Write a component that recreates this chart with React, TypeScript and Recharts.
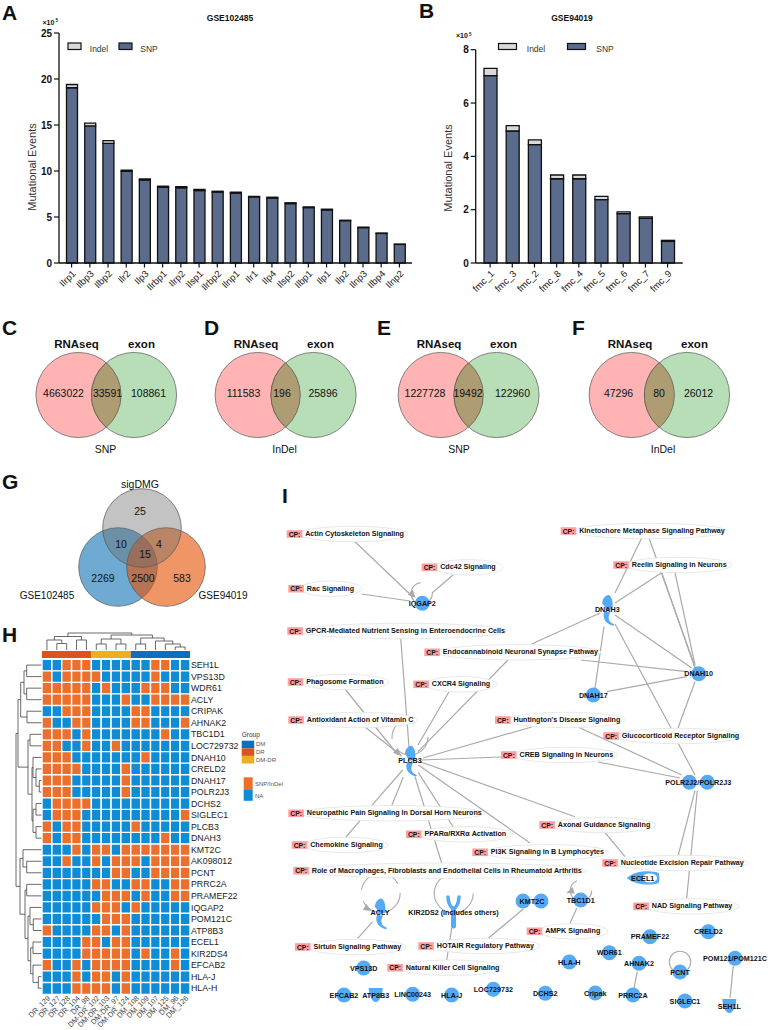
import React from 'react';
import {
  BarChart,
  Bar,
  Cell,
  XAxis,
  YAxis,
  ScatterChart,
  Scatter,
  ReferenceLine,
} from 'recharts';

const FONT = '"Liberation Sans", Arial, sans-serif';

// panels A / B
const A_CATS = ['Ilrp1', 'Ilbp3', 'Ilbp2', 'Ilr2', 'Ilp3', 'Ilrbp1', 'Ilrp2', 'Ilsp1', 'Ilrbp2', 'Ilnp1', 'Ilr1', 'Ilp4', 'Ilsp2', 'Ilbp1', 'Ilp1', 'Ilp2', 'Ilnp3', 'Ilbp4', 'Ilnp2'];
const A_SNP = [19.05, 14.9, 13.0, 9.95, 9.0, 8.23, 8.18, 7.88, 7.7, 7.6, 7.15, 7.05, 6.45, 6.02, 5.77, 4.6, 3.85, 3.21, 2.02];
const A_INDEL = [0.35, 0.3, 0.3, 0.15, 0.15, 0.12, 0.12, 0.12, 0.1, 0.1, 0.1, 0.1, 0.1, 0.08, 0.08, 0.05, 0.05, 0.04, 0.03];
const A_TICKS = [0, 5, 10, 15, 20, 25];

const B_CATS = ['fmc_1', 'fmc_3', 'fmc_2', 'fmc_8', 'fmc_4', 'fmc_5', 'fmc_6', 'fmc_7', 'fmc_9'];
const B_SNP = [7.03, 4.95, 4.44, 3.16, 3.16, 2.38, 1.85, 1.67, 0.81];
const B_INDEL = [0.27, 0.2, 0.18, 0.14, 0.14, 0.12, 0.07, 0.06, 0.04];
const B_TICKS = [0, 2, 4, 6, 8];

// panels C-F
const VENN_TITLES = ['SNP', 'InDel', 'SNP', 'InDel'];
const VENN_COUNTS = [
  [4663022, 33591, 108861],
  [111583, 196, 25896],
  [1227728, 19492, 122960],
  [47296, 80, 26012],
];

// panel G
const G_NAMES = ['sigDMG', 'GSE102485', 'GSE94019'];
const G_COUNTS = [25, 10, 4, 15, 2269, 2500, 583];
const G_X = [142, 118, 166];
const G_Y = [528, 567, 567];

// panel H
const HEAT_GENES = ['SEH1L', 'VPS13D', 'WDR61', 'ACLY', 'CRIPAK', 'AHNAK2', 'TBC1D1', 'LOC729732', 'DNAH10', 'CRELD2', 'DNAH17', 'POLR2J3', 'DCHS2', 'SIGLEC1', 'PLCB3', 'DNAH3', 'KMT2C', 'AK098012', 'PCNT', 'PRRC2A', 'PRAMEF22', 'IQGAP2', 'POM121C', 'ATP8B3', 'ECEL1', 'KIR2DS4', 'EFCAB2', 'HLA-J', 'HLA-H'];
const HEAT_SAMPLES = ['DR_129', 'DR_127', 'DR_128', 'DR_104', 'DR_98', 'DM-DR_102', 'DM-DR_103', 'DM-DR_97', 'DM-DR_124', 'DM_108', 'DM_109', 'DM_107', 'DM_125', 'DM_96', 'DM_126'];
const HEAT_ROWS = [
  '001110000001100',
  '101111000001000',
  '111110100011100',
  '111110001001111',
  '001110000110000',
  '100110000110001',
  '111010000000100',
  '110010010000000',
  '111000000010000',
  '111100001000000',
  '111000001000000',
  '111000001000000',
  '011110000000000',
  '011100000000001',
  '101100000100000',
  '101100000000100',
  '000101101111111',
  '001001011101111',
  '000000011001111',
  '000001100110011',
  '000000111010011',
  '000001110100000',
  '000000111000000',
  '100001101000000',
  '000011011000000',
  '000011111010010',
  '100101111000010',
  '000101101000000',
  '000111101000000',
];
const GROUP_SIZES = { DR: 5, 'DM-DR': 4, DM: 6 };

// dendrograms: [merge height, left child, right child], a number is a leaf index
type Tree = number | [number, Tree, Tree];
const TOP_TREE: Tree = [633,
  [636.5, [640, 0, [643.5, 1, 2]], [640, 3, 4]],
  [635, [639, [644, 5, 6], [644, 7, 8]], [638, [644, 9, 10], [641, 11, [644, 12, [647, 13, 14]]]]],
];
const LEFT_TREE: Tree = [16,
  [18,
    [20.7, [24, [26.7, 0, 1], [26.7, 2, 3]], [27, 4, 5]],
    [28, [30, 6, 7], [32, [33, 8, [36, 9, [39.3, 10, 11]]], [33, [36, 12, 13], [36, 14, 15]]]],
  ],
  [20,
    [23, 16, [26.7, 17, 18]],
    [25, [26.7, 19, 20], [28, [30, 21, [33.3, 22, 23]], [30.7, [33, 24, 25], [33, 26, [38.3, 27, 28]]]]],
  ],
];

// panel I: pathway label, x of the CP box, y, x of the ellipse end
const PATHWAYS: [string, number, number, number][] = [
  ['Actin Cytoskeleton Signaling', 286.7, 534, 408],
  ['Cdc42 Signaling', 421.7, 567.3, 503],
  ['Rac Signaling', 288.3, 588.7, 362],
  ['GPCR-Mediated Nutrient Sensing in Enteroendocrine Cells', 287.3, 631, 507],
  ['Endocannabinoid Neuronal Synapse Pathway', 424.3, 652.3, 601],
  ['Phagosome Formation', 287.7, 682, 389],
  ['CXCR4 Signaling', 413.3, 684.3, 497],
  ['Antioxidant Action of Vitamin C', 288.3, 720, 418],
  ["Huntington's Disease Signaling", 495, 720, 625],
  ['Glucocorticoid Receptor Signaling', 603.3, 736, 743],
  ['CREB Signaling in Neurons', 501, 755, 618],
  ['Kinetochore Metaphase Signaling Pathway', 560.7, 531, 727],
  ['Reelin Signaling in Neurons', 613.3, 565, 732],
  ['Neuropathic Pain Signaling In Dorsal Horn Neurons', 288.3, 813.3, 485],
  ['PPARα/RXRα Activation', 406, 834.3, 513],
  ['Chemokine Signaling', 291.7, 845, 388],
  ['PI3K Signaling in B Lymphocytes', 472.3, 852.3, 609],
  ['Axonal Guidance Signaling', 539.3, 825, 656],
  ['Nucleotide Excision Repair Pathway', 602.3, 863, 748],
  ['Role of Macrophages, Fibroblasts and Endothelial Cells in Rheumatoid Arthritis', 293.3, 870.7, 587],
  ['NAD Signaling Pathway', 633.3, 906.3, 739],
  ['AMPK Signaling', 526.7, 931.3, 608],
  ['Sirtuin Signaling Pathway', 295, 947, 406],
  ['HOTAIR Regulatory Pathway', 418.3, 946, 540],
  ['Natural Killer Cell Signaling', 387.3, 967.7, 503],
];

// node label, x, y, glyph
const NODES: [string, number, number, string][] = [
  ['IQGAP2', 422.3, 603.3, 'circle'],
  ['DNAH3', 607.3, 609.3, 'crescent'],
  ['DNAH10', 698.7, 673.7, 'circle'],
  ['DNAH17', 593.3, 695, 'circle'],
  ['PLCB3', 410, 760, 'crescent'],
  ['POLR2J2/POLR2J3', 698.3, 782.3, 'double'],
  ['ECEL1', 642.7, 878, 'leaf'],
  ['ACLY', 380, 912.7, 'crescent'],
  ['KIR2DS2 (includes others)', 453.5, 912, 'receptor'],
  ['KMT2C', 532, 901, 'double'],
  ['TBC1D1', 580.7, 900, 'circle'],
  ['VPS13D', 363.7, 968, 'circle'],
  ['EFCAB2', 344, 995, 'circle'],
  ['ATP8B3', 375.7, 995, 'cup'],
  ['LINC00243', 412.7, 994.3, 'circle'],
  ['HLA-J', 451.7, 995, 'circle'],
  ['LOC729732', 493.3, 989.3, 'circle'],
  ['DCHS2', 545.3, 993.3, 'circle'],
  ['Cripak', 595.3, 993, 'circle'],
  ['HLA-H', 569.3, 962, 'circle'],
  ['WDR61', 609.3, 952.7, 'circle'],
  ['PRAMEF22', 650, 936.7, 'circle'],
  ['AHNAK2', 639, 963.3, 'circle'],
  ['PRRC2A', 633, 995, 'circle'],
  ['PCNT', 680, 972, 'circle'],
  ['SIGLEC1', 685, 1001, 'circle'],
  ['CRELD2', 708.3, 931.7, 'circle'],
  ['POM121/POM121C', 735, 958.3, 'circle'],
  ['SEH1L', 729.3, 1006, 'cup'],
];

const EDGES: [number, number, number, number][] = [
  [355, 541.7, 413, 597], [453, 575, 432, 593], [361.7, 594, 410, 601],
  [400.7, 638, 409, 747], [345, 689, 398, 755], [365, 727, 401.7, 756],
  [449, 691.7, 418, 745], [508, 660, 418, 751.7], [531.7, 644, 600, 613],
  [581, 660, 686.7, 671.7], [531.7, 727, 423, 758], [578, 727, 681.7, 775],
  [501, 757, 421.7, 760], [598, 762, 680, 778], [678, 728, 695, 681.7],
  [678, 743, 695, 775], [615, 624, 671, 728], [615, 615, 691.7, 668],
  [604, 626.7, 595, 688], [606.7, 691.7, 686.7, 676.7], [641.7, 538, 615, 593],
  [649, 538, 695, 666.7], [661.7, 572.7, 615, 603], [661.7, 572.7, 695, 668],
  [675, 572.7, 695, 665], [402.7, 770, 371.7, 805.7], [403.3, 777, 391.7, 805.7],
  [360, 820.7, 346, 837], [415, 776.7, 441.7, 863], [418.3, 772.7, 453.3, 827],
  [418.3, 765, 530, 843], [420, 761.7, 575, 816.7], [604.3, 831.7, 625, 856.7],
  [695, 790.7, 678.3, 855], [697.3, 790.7, 686.7, 898], [576.7, 908.3, 570, 923.3],
  [523.3, 909, 488.3, 938.3], [372.7, 921.7, 357.7, 938.3], [451.7, 928, 446.7, 960],
  [637.3, 971.7, 634, 988], [733.3, 966, 730, 998],
];

// self loops: x, y, radius, dash pattern
const LOOPS: [number, number, number, string][] = [
  [421.7, 593.3, 10.7, '20 5 24 20'],
  [410, 737, 18, '40 14 36 30'],
  [380.7, 893, 19.5, '52 12 48 12'],
  [453.7, 893.3, 19.5, '86 36'],
  [581, 890.7, 10.7, '46 21'],
  [680, 962, 10.7, '68'],
];
const ARROWS: [number, number, number][] = [
  [413, 595, 45], [398.3, 753, 45], [368, 909, 30], [570, 891.7, 160],
];

const ORANGE = '#EC702D';
const BLUE = '#0E8CD6';
const NODE_BLUE = '#55AAF5';

const A_DATA = A_CATS.map((name, i) => ({ name, snp: A_SNP[i], indel: A_INDEL[i] }));
const B_DATA = B_CATS.map((name, i) => ({ name, snp: B_SNP[i], indel: B_INDEL[i] }));
const HEAT_DATA = HEAT_GENES.map((gene) => {
  const row: Record<string, string | number> = { gene };
  HEAT_SAMPLES.forEach((s) => { row[s] = 1; });
  return row;
});

function treeSegments(tree: Tree, leafPos: (i: number) => number, leafH: number, out: number[][]): [number, number] {
  if (typeof tree === 'number') return [leafPos(tree), leafH];
  const [h, a, b] = tree;
  const [pa, ha] = treeSegments(a, leafPos, leafH, out);
  const [pb, hb] = treeSegments(b, leafPos, leafH, out);
  out.push([pa, ha, pa, h], [pb, hb, pb, h], [pa, h, pb, h]);
  return [(pa + pb) / 2, h];
}

const topSegs: number[][] = [];
treeSegments(TOP_TREE, (i) => 42 + 9.87 * (i + 0.5), 650, topSegs);
const leftSegs: number[][] = [];
treeSegments(LEFT_TREE, (i) => 659.3 + 11.54 * (i + 0.5), 41.5, leftSegs);

type Lab = { x: number; y: number; t: string; s: number; w?: number; a?: string; c?: string; r?: number };

const LABELS: Lab[] = [
  { x: 2, y: 12, t: 'A', s: 21, w: 700, a: 'start' },
  { x: 419, y: 10, t: 'B', s: 21, w: 700, a: 'start' },
  { x: 2, y: 327, t: 'C', s: 21, w: 700, a: 'start' },
  { x: 204, y: 327, t: 'D', s: 21, w: 700, a: 'start' },
  { x: 377, y: 327, t: 'E', s: 21, w: 700, a: 'start' },
  { x: 572, y: 327, t: 'F', s: 21, w: 700, a: 'start' },
  { x: 2, y: 481, t: 'G', s: 21, w: 700, a: 'start' },
  { x: 2, y: 634, t: 'H', s: 21, w: 700, a: 'start' },
  { x: 282, y: 495, t: 'I', s: 21, w: 700, a: 'start' },
  { x: 230, y: 18, t: 'GSE102485', s: 8.5, w: 700 },
  { x: 572, y: 18, t: 'GSE94019', s: 8.5, w: 700 },
  { x: 42.5, y: 22, t: '×10', s: 7, w: 700, a: 'start' },
  { x: 55.5, y: 20.5, t: '5', s: 4.5, w: 700, a: 'start' },
  { x: 456, y: 35.5, t: '×10', s: 7, w: 700, a: 'start' },
  { x: 469, y: 34, t: '5', s: 4.5, w: 700, a: 'start' },
  { x: 99, y: 48.5, t: 'Indel', s: 8.5, c: '#333' },
  { x: 149, y: 48.5, t: 'SNP', s: 8.5, c: '#333' },
  { x: 536, y: 48.5, t: 'Indel', s: 8.5, c: '#333' },
  { x: 605, y: 48.5, t: 'SNP', s: 8.5, c: '#333' },
  { x: 32, y: 167, t: 'Mutational Events', s: 11, c: '#333', r: -90 },
  { x: 448, y: 168, t: 'Mutational Events', s: 11, c: '#333', r: -90 },
  { x: 241.7, y: 734, t: 'Group', s: 6.5, a: 'start', c: '#333' },
  { x: 256, y: 744, t: 'DM', s: 6, a: 'start', c: '#555' },
  { x: 256, y: 752, t: 'DR', s: 6, a: 'start', c: '#555' },
  { x: 256, y: 760, t: 'DM-DR', s: 6, a: 'start', c: '#555' },
  { x: 255, y: 784, t: 'SNP/InDel', s: 6, a: 'start', c: '#555' },
  { x: 255, y: 795.7, t: 'NA', s: 6, a: 'start', c: '#555' },
  { x: 140, y: 483.7, t: G_NAMES[0], s: 10.5 },
  { x: 47, y: 595, t: G_NAMES[1], s: 10 },
  { x: 223, y: 595, t: G_NAMES[2], s: 10 },
];

function GlyphPath({ kind }: { kind: string }) {
  if (kind === 'circle') return <circle r={7.5} fill={NODE_BLUE} />;
  if (kind === 'double') {
    return (
      <g fill={NODE_BLUE}>
        <circle cx={-9} r={7.5} />
        <circle cx={9} r={7.5} />
      </g>
    );
  }
  if (kind === 'crescent') {
    return (
      <g fill={NODE_BLUE}>
        <path d="M-5,-6 C-5,-12 0,-15 2,-14 C5,-12 6,-6 5,0 L-2,1 C-1,-2 -4,-4 -5,-6Z" />
        <path d="M-3,2 C-5,8 -3,14 6,16.5 C7,16 7,15 6,14.5 C1,13 0,8 3,3 Z" />
      </g>
    );
  }
  if (kind === 'leaf') {
    return (
      <g>
        <path d="M-16,0 C-8,-8 10,-8 16,-5 C17,-1 17,2 16,5 C8,8 -8,7 -16,0Z" fill={NODE_BLUE} />
        <ellipse cx={7} cy={0} rx={7.5} ry={4.5} fill="#fff" />
      </g>
    );
  }
  if (kind === 'receptor') {
    return (
      <g fill="none" stroke={NODE_BLUE} strokeLinecap="round">
        <path d="M-5.5,-15 Q-5,-6 0,-3 Q5,-6 5.5,-15" strokeWidth={3.6} />
        <path d="M0,-3 L0,14" strokeWidth={5} />
      </g>
    );
  }
  return <path d="M-7,-7 L7,-7 C7,-1 4,7 0,7 C-4,7 -7,-1 -7,-7Z" fill={NODE_BLUE} />;
}

const TextShape = (p: any) => {
  const d: Lab = p.payload;
  return (
    <text
      x={p.cx}
      y={p.cy}
      fontFamily={FONT}
      fontSize={d.s}
      fontWeight={d.w ?? 400}
      fill={d.c ?? '#111'}
      textAnchor={(d.a ?? 'middle') as any}
      dominantBaseline="central"
      transform={d.r ? `rotate(${d.r} ${p.cx} ${p.cy})` : undefined}
    >
      {d.t}
    </text>
  );
};

const VennShape = (p: any) => (
  <circle
    cx={p.cx}
    cy={p.cy}
    r={p.payload.r}
    fill={p.payload.fill}
    fillOpacity={p.payload.o ?? 1}
    stroke="#555"
    strokeWidth={0.7}
  />
);

// overlap of two equal circles; half is half of the distance between their centres
const LensShape = (p: any) => {
  const { r, half } = p.payload;
  const h = Math.sqrt(r * r - half * half);
  return (
    <path
      d={`M${p.cx},${p.cy - h} A${r},${r} 0 0 1 ${p.cx},${p.cy + h} A${r},${r} 0 0 1 ${p.cx},${p.cy - h}Z`}
      fill="#AE9C72"
      stroke="#555"
      strokeWidth={0.7}
    />
  );
};

const PathwayShape = (p: any) => {
  const { name, end } = p.payload;
  const left = p.cx + 12;
  const w = end - left;
  return (
    <g fontFamily={FONT}>
      <ellipse cx={left + w / 2} cy={p.cy} rx={w / 2} ry={7.7} fill="#fff" stroke="#e2e2e2" strokeWidth={0.8} />
      <rect x={p.cx} y={p.cy - 3.8} width={15.6} height={7.6} fill="#FF9E9E" />
      <text x={p.cx + 7.8} y={p.cy} fontSize={6.8} fontWeight={700} textAnchor="middle" dominantBaseline="central" fill="#111">CP:</text>
      <text x={p.cx + 18.5} y={p.cy} fontSize={7.15} fontWeight={700} dominantBaseline="central" fill="#111">{name}</text>
    </g>
  );
};

const NodeShape = (p: any) => (
  <g transform={`translate(${p.cx} ${p.cy})`}>
    <GlyphPath kind={p.payload.kind} />
  </g>
);

const NodeLabelShape = (p: any) => (
  <text x={p.cx} y={p.cy} fontFamily={FONT} fontSize={7.2} fontWeight={700} fill="#111" textAnchor="middle" dominantBaseline="central">
    {p.payload.name}
  </text>
);

const LoopShape = (p: any) => (
  <circle cx={p.cx} cy={p.cy} r={p.payload.r} fill="none" stroke="#aaa" strokeWidth={1.1} strokeDasharray={p.payload.dash} />
);

const ArrowShape = (p: any) => (
  <path d="M-4,-3.5 L4,0 L-4,3.5Z" fill="#aaa" transform={`translate(${p.cx} ${p.cy}) rotate(${p.payload.rot})`} />
);

const RectShape = (p: any) => (
  <rect x={p.cx} y={p.cy} width={p.payload.w} height={p.payload.h} fill={p.payload.fill} stroke={p.payload.stroke ?? 'none'} strokeWidth={1.2} />
);

// sample names hang off the column centres at 45 degrees
const SampleTick = (p: any) => {
  const x = p.x + 2;
  const y = p.y + 3;
  return (
    <text x={x} y={y} fontFamily={FONT} fontSize={7.4} fill="#444" textAnchor="end" dominantBaseline="central" transform={`rotate(-45 ${x} ${y})`}>
      {HEAT_SAMPLES[Math.floor(p.payload.value)]}
    </text>
  );
};

const VENN_PINK_X = [78.5, 257.7, 440.7, 631.7];
const VENN_GREEN_X = [134, 313.5, 496.5, 687];
const VENN_TEXT_X = [
  [63.5, 107.5, 148.5],
  [243.5, 282, 323],
  [425, 468, 512.5],
  [618.5, 659, 698.5],
];
const VENN_HEAD_X = [[76.5, 141.5], [256, 320.5], [439, 503.5], [630, 694.5]];
const VENN_FOOT_X = [105.5, 284.5, 459, 663];
const G_TEXT_XY = [[140, 511], [121, 544], [159, 544], [145, 554], [103, 578], [143, 578], [182, 578]];

const vennBack = VENN_PINK_X.map((x) => ({ x, y: 395, r: 42.6, fill: '#FFB3B3' }));
const vennFront = VENN_GREEN_X.map((x) => ({ x, y: 395, r: 42.6, fill: '#B7DEB7' }));
const vennLens = VENN_PINK_X.map((x, i) => ({ x: (x + VENN_GREEN_X[i]) / 2, y: 395, r: 42.6, half: (VENN_GREEN_X[i] - x) / 2 }));
const vennText: Lab[] = [];
VENN_COUNTS.forEach((row, i) => {
  row.forEach((n, j) => vennText.push({ x: VENN_TEXT_X[i][j], y: 392.7, t: String(n), s: 10.5 }));
  vennText.push({ x: VENN_HEAD_X[i][0], y: 344, t: 'RNAseq', s: 11.5, w: 700 });
  vennText.push({ x: VENN_HEAD_X[i][1], y: 344, t: 'exon', s: 11.5, w: 700 });
  vennText.push({ x: VENN_FOOT_X[i], y: 449, t: VENN_TITLES[i], s: 10.5 });
});
G_COUNTS.forEach((n, i) => vennText.push({ x: G_TEXT_XY[i][0], y: G_TEXT_XY[i][1], t: String(n), s: 10.5 }));

const gCircles = [
  { x: G_X[1], y: G_Y[1], r: 39.3, fill: '#6EAAD2' },
  { x: G_X[2], y: G_Y[2], r: 39.3, fill: '#E65000', o: 0.6 },
  { x: G_X[0], y: G_Y[0], r: 39.3, fill: '#696969', o: 0.4 },
];

const legendRects = [
  { x: 68, y: 43, w: 13, h: 6.5, fill: '#D9D9D9', stroke: '#111' },
  { x: 119, y: 43, w: 13, h: 6.5, fill: '#5A6B8C', stroke: '#111' },
  { x: 498.5, y: 43.5, w: 18, h: 6, fill: '#D9D9D9', stroke: '#111' },
  { x: 567.5, y: 43.5, w: 18, h: 6, fill: '#5A6B8C', stroke: '#111' },
  { x: 241.7, y: 740.7, w: 12.5, h: 7.6, fill: '#0A6FC0' },
  { x: 241.7, y: 748.3, w: 12.5, h: 7.6, fill: '#D9541E' },
  { x: 241.7, y: 755.9, w: 12.5, h: 7.6, fill: '#EEAE1F' },
  { x: 243.7, y: 777.3, w: 9, h: 12, fill: ORANGE },
  { x: 243.7, y: 789.3, w: 9, h: 11.5, fill: BLUE },
];

const pathwayPts = PATHWAYS.map(([name, x, y, end]) => ({ name, x, y, end }));
const nodePts = NODES.map(([name, x, y, kind]) => ({ name, x, y, kind }));
const loopPts = LOOPS.map(([x, y, r, dash]) => ({ x, y, r, dash }));
const arrowPts = ARROWS.map(([x, y, rot]) => ({ x, y, rot }));

function MutationBars({ data, ticks, max, left, width, top, yWidth, plotRight, pad, barSize }: any) {
  return (
    <div style={{ position: 'absolute', left, top: 0 }}>
      <BarChart
        width={width}
        height={300}
        data={data}
        margin={{ top, right: plotRight, left: 0, bottom: 0 }}
      >
        <XAxis
          dataKey="name"
          height={37}
          interval={0}
          padding={pad}
          angle={-45}
          textAnchor="end"
          tick={{ fontSize: 9.5, fill: '#222', fontFamily: FONT }}
          tickLine={{ stroke: '#111', strokeWidth: 1.2 }}
          tickSize={4.5}
          axisLine={{ stroke: '#111', strokeWidth: 1.3 }}
        />
        <YAxis
          width={yWidth}
          domain={[0, max]}
          ticks={ticks}
          interval={0}
          tick={{ fontSize: 10, fontWeight: 700, fill: '#111', fontFamily: FONT }}
          tickLine={{ stroke: '#111', strokeWidth: 1.2 }}
          tickSize={5}
          axisLine={{ stroke: '#111', strokeWidth: 1.3 }}
        />
        <Bar dataKey="snp" stackId="a" fill="#5A6B8C" stroke="#111" strokeWidth={1.3} barSize={barSize} isAnimationActive={false} />
        <Bar dataKey="indel" stackId="a" fill="#D9D9D9" stroke="#111" strokeWidth={1.3} barSize={barSize} isAnimationActive={false} />
      </BarChart>
    </div>
  );
}

function Heatmap() {
  return (
    <>
      <div style={{ position: 'absolute', left: 42, top: 651 }}>
        <BarChart width={148} height={7} layout="vertical" data={[{ name: 'group', ...GROUP_SIZES }]} margin={{ top: 0, right: 0, bottom: 0, left: 0 }} barCategoryGap={0}>
          <XAxis type="number" domain={[0, 15]} hide />
          <YAxis type="category" dataKey="name" hide />
          <Bar dataKey="DR" stackId="g" fill="#D9541E" isAnimationActive={false} />
          <Bar dataKey="DM-DR" stackId="g" fill="#EEAE1F" isAnimationActive={false} />
          <Bar dataKey="DM" stackId="g" fill="#0A6FC0" isAnimationActive={false} />
        </BarChart>
      </div>
      <div style={{ position: 'absolute', left: 12, top: 659 }}>
        <BarChart
          width={250}
          height={371}
          layout="vertical"
          data={HEAT_DATA}
          margin={{ top: 0.3, right: 0, bottom: 0, left: 30 }}
          barCategoryGap={0}
        >
          <XAxis
            type="number"
            domain={[0, 15]}
            ticks={HEAT_SAMPLES.map((_, i) => i + 0.5)}
            interval={0}
            height={36}
            tick={SampleTick}
            tickLine={false}
            tickSize={0}
            tickMargin={0}
            axisLine={false}
          />
          <YAxis
            type="category"
            dataKey="gene"
            orientation="right"
            width={72}
            interval={0}
            tick={{ fontSize: 8.8, fill: '#222', fontFamily: FONT }}
            tickLine={false}
            tickSize={0}
            tickMargin={1}
            axisLine={false}
          />
          {HEAT_SAMPLES.map((s, c) => (
            <Bar key={s} dataKey={s} stackId="h" stroke="#fff" strokeWidth={1.4} isAnimationActive={false}>
              {HEAT_GENES.map((g, r) => (
                <Cell key={g} fill={HEAT_ROWS[r][c] === '1' ? ORANGE : BLUE} />
              ))}
            </Bar>
          ))}
        </BarChart>
      </div>
    </>
  );
}

// everything that is a diagram rather than a plot, on a page-sized pair of axes
function Diagram() {
  return (
    <div style={{ position: 'absolute', left: 0, top: 0 }}>
      <ScatterChart width={768} height={1030} margin={{ top: 0, right: 0, bottom: 0, left: 0 }}>
        <XAxis type="number" dataKey="x" domain={[0, 768]} hide />
        <YAxis type="number" dataKey="y" domain={[0, 1030]} reversed hide />
        {EDGES.map(([x1, y1, x2, y2], i) => (
          <ReferenceLine key={`e${i}`} segment={[{ x: x1, y: y1 }, { x: x2, y: y2 }]} stroke="#aaa" strokeWidth={1.2} ifOverflow="visible" />
        ))}
        {topSegs.map(([a, h, b, k], i) => (
          <ReferenceLine key={`t${i}`} segment={[{ x: a, y: h }, { x: b, y: k }]} stroke="#444" strokeWidth={0.8} ifOverflow="visible" />
        ))}
        {leftSegs.map(([a, h, b, k], i) => (
          <ReferenceLine key={`l${i}`} segment={[{ x: h, y: a }, { x: k, y: b }]} stroke="#444" strokeWidth={0.8} ifOverflow="visible" />
        ))}
        <Scatter data={vennBack} shape={VennShape} isAnimationActive={false} />
        <Scatter data={vennFront} shape={VennShape} isAnimationActive={false} />
        <Scatter data={vennLens} shape={LensShape} isAnimationActive={false} />
        <Scatter data={gCircles} shape={VennShape} isAnimationActive={false} />
        <Scatter data={legendRects} shape={RectShape} isAnimationActive={false} />
        <Scatter data={loopPts} shape={LoopShape} isAnimationActive={false} />
        <Scatter data={arrowPts} shape={ArrowShape} isAnimationActive={false} />
        <Scatter data={pathwayPts} shape={PathwayShape} isAnimationActive={false} />
        <Scatter data={nodePts} shape={NodeShape} isAnimationActive={false} />
        <Scatter data={nodePts} shape={NodeLabelShape} isAnimationActive={false} />
        <Scatter data={vennText} shape={TextShape} isAnimationActive={false} />
        <Scatter data={LABELS} shape={TextShape} isAnimationActive={false} />
      </ScatterChart>
    </div>
  );
}

export default function App() {
  return (
    <div style={{ position: 'absolute', left: 0, top: 0, width: 768, height: 1030, background: '#fff', overflow: 'hidden' }}>
      <MutationBars data={A_DATA} ticks={A_TICKS} max={25} left={0} width={420} top={33} yWidth={59} plotRight={8} pad={{ left: 3.5, right: 3.5 }} barSize={11} />
      <MutationBars data={B_DATA} ticks={B_TICKS} max={8} left={420} width={270} top={49.7} yWidth={55.7} plotRight={7.3} pad={{ left: 3.3, right: 4 }} barSize={13} />
      <Heatmap />
      <Diagram />
    </div>
  );
}
